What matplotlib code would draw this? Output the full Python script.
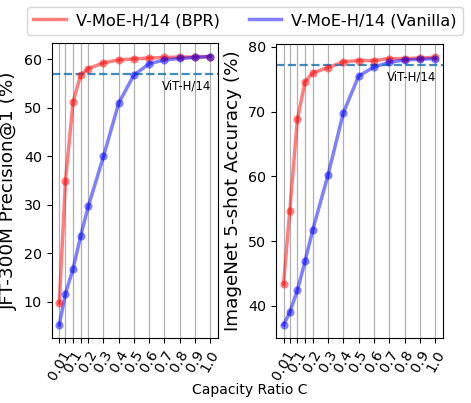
import matplotlib
matplotlib.use("Agg")
import matplotlib.pyplot as plt

capacity = [0.01, 0.05, 0.1, 0.15, 0.2, 0.3, 0.4, 0.5, 0.6, 0.7, 0.8, 0.9, 1.0]
tick_labels = ['0.01', '', '0.1', '', '0.2', '0.3', '0.4', '0.5', '0.6', '0.7', '0.8', '0.9', '1.0']

jft_bpr = [9.8, 34.9, 51.2, 56.8, 58.1, 59.3, 59.9, 60.1, 60.3, 60.4, 60.5, 60.5, 60.6]
jft_vanilla = [5.3, 11.7, 16.8, 23.6, 29.7, 40.0, 51.0, 56.8, 59.1, 59.9, 60.2, 60.4, 60.6]
jft_vit = 57.0

in_bpr = [43.4, 54.6, 68.8, 74.6, 76.0, 76.8, 77.7, 77.9, 77.9, 78.2, 78.2, 78.3, 78.4]
in_vanilla = [37.1, 39.0, 42.4, 46.9, 51.7, 60.2, 69.8, 75.5, 76.9, 77.6, 78.0, 78.1, 78.2]
in_vit = 77.2

fig = plt.figure(figsize=(4.71, 4.03), dpi=100)
ax1 = fig.add_axes([0.110, 0.161, 0.352, 0.732])
ax2 = fig.add_axes([0.586, 0.161, 0.354, 0.730])

def draw(ax, bpr, van, vit, ylabel, off):
    ax.plot(capacity, bpr, color='red', alpha=0.5, lw=2.5, label='V-MoE-H/14 (BPR)')
    ax.scatter(capacity, bpr, color='red', alpha=0.5, s=34, zorder=3, lw=0)
    ax.plot(capacity, van, color='blue', alpha=0.5, lw=2.5, label='V-MoE-H/14 (Vanilla)')
    ax.scatter(capacity, van, color='blue', alpha=0.5, s=34, zorder=3, lw=0)
    ax.axhline(vit, color='tab:blue', ls='--', lw=1.6, alpha=0.85)
    ax.text(0.96, vit - off, 'ViT-H/14', ha='right', va='top', fontsize=8.5,
            transform=ax.get_yaxis_transform())
    ax.set_xticks(capacity)
    ax.set_xticklabels(tick_labels, rotation=60, fontsize=10.3)
    ax.tick_params(axis='y', labelsize=10.3)
    ax.grid(axis='x', color='#b0b0b0', lw=0.9)
    ax.set_ylabel(ylabel, fontsize=13.2)

draw(ax1, jft_bpr, jft_vanilla, jft_vit, 'JFT-300M Precision@1 (%)', 1.2)
draw(ax2, in_bpr, in_vanilla, in_vit, 'ImageNet 5-shot Accuracy (%)', 0.9)

handles, labels = ax1.get_legend_handles_labels()
fig.legend(handles, labels, loc='upper center', bbox_to_anchor=(0.52, 1.004), ncol=2,
           fontsize=11.7, handlelength=2.0, handletextpad=0.6, columnspacing=1.8)
fig.text(0.53, 0.022, 'Capacity Ratio C', ha='center', fontsize=10)

fig.savefig('out.png', dpi=100)
